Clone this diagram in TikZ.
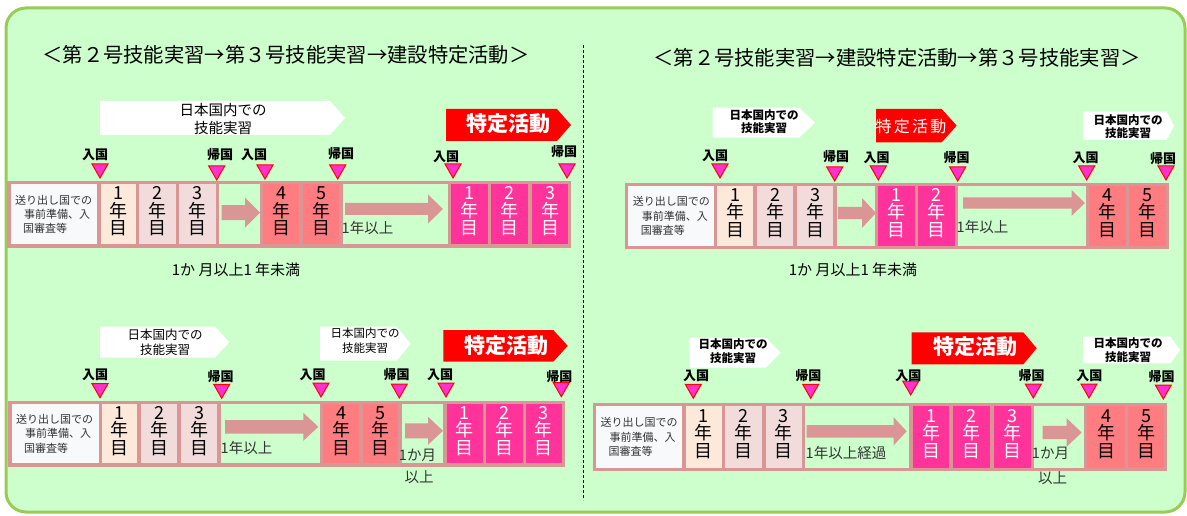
\documentclass[tikz,border=0pt]{standalone}
\usepackage{fontspec}
\setmainfont{Noto Sans CJK JP}
\definecolor{bgG}{HTML}{CCFFCC}
\definecolor{bdG}{HTML}{99CC55}
\definecolor{barC}{HTML}{D99694}
\definecolor{cZero}{HTML}{F7F9FB}
\definecolor{cPeach}{HTML}{FDE9D9}
\definecolor{cLt}{HTML}{F2DCDB}
\definecolor{cSal}{HTML}{FF7C80}
\definecolor{cMag}{HTML}{FF3399}
\definecolor{triF}{HTML}{FF33CC}
\definecolor{txG}{HTML}{333333}
\newcommand\fz[2]{\fontsize{#1}{#2}\selectfont}
\tikzset{
  boxcell/.style={anchor=north west, inner sep=0pt, outer sep=0pt, draw=none},
  yrtxt/.style={align=center, inner sep=0pt, font=\fz{18}{17.5}},
  zerotxt/.style={anchor=west, align=left, inner sep=0pt, text=txG, font=\fz{11}{14.3}},
  trimark/.style={fill=triF, draw=red, line width=1pt, line join=miter},
  mklab/.style={inner sep=0pt, text=black, font=\fz{13}{13}\bfseries},
  botlab/.style={inner sep=0pt, text=black, font=\fz{15}{15}},
  notelab/.style={inner sep=0pt, text=txG, font=\fz{14.5}{14.5}},
  bantxt/.style={align=center, inner sep=0pt, text=black},
  redtxt/.style={inner sep=0pt, text=white, font=\fz{21}{21}\bfseries},
  titletxt/.style={inner sep=0pt, text=black, font=\fz{20.3}{20.3}},
}
\newcommand\Cell[6]{\node[boxcell, fill=#6, minimum width={(#3-#2)*1pt}, minimum height={(#5-#4)*1pt}] (#1) at (#2,#4) {};}
\newcommand\Yr[3]{\node[yrtxt, text=#2] (#1t) at ([yshift=3pt]#1.center) {#3\\年\\目};}
\newcommand\Zero[1]{\node[zerotxt] (#1t) at ([xshift=4.3pt]#1.west) {送り出し国での\\\hspace*{9pt}事前準備、入\\\hspace*{8pt}国審査等};}
\newcommand\Mark[6]{\draw[trimark] (#2-8,#3-14) -- (#2+8,#3-14) -- (#2,#3) -- cycle;
  \node[mklab] (#1) at (#5,#6) {#4};}
\newcommand\Banner[6]{\fill[#6] (#1,#4) -- (#2,#4) -- (#3,{(#4+#5)/2}) -- (#2,#5) -- (#1,#5) -- cycle;}
\newcommand\Barrow[6]{\fill[barC] (#1,#3-#4) -- (#2-#6,#3-#4) -- (#2-#6,#3-#5) -- (#2,#3) -- (#2-#6,#3+#5) -- (#2-#6,#3+#4) -- (#1,#3+#4) -- cycle;}
\begin{document}
\begin{tikzpicture}[x=1pt,y=-1pt]
\useasboundingbox (0,0) rectangle (1187,516);
\fill[white] (0,0) rectangle (1187,516);
\draw[bdG, line width=3pt, fill=bgG, rounded corners=20pt] (6,8) rectangle (1185,512);
\draw[black, line width=0.8pt, dash pattern=on 3pt off 2pt] (583,45) -- (583,500);

% titles
\node[titletxt] (T1) at (286,55) {＜第２号技能実習→第３号技能実習→建設特定活動＞};
\node[titletxt] (T2) at (897,58) {＜第２号技能実習→建設特定活動→第３号技能実習＞};

% ---------------- Row A ----------------
\fill[barC] (7,181) rectangle (571,248);
\Cell{A0}{10.7}{97.3}{184.3}{244.3}{cZero}
\Cell{A1}{100.7}{136}{184.3}{244.3}{cPeach}
\Cell{A2}{139.3}{176}{184.3}{244.3}{cLt}
\Cell{A3}{179.3}{216}{184.3}{244.3}{cLt}
\Cell{Ag1}{219.3}{260}{184.3}{244.3}{bgG}
\Cell{A4}{263.3}{299.3}{184.3}{244.3}{cSal}
\Cell{A5}{302.7}{339.3}{184.3}{244.3}{cSal}
\Cell{Ag2}{342.7}{447.7}{184.3}{244.3}{bgG}
\Cell{A6}{451}{487.7}{184.3}{244.3}{cMag}
\Cell{A7}{491.3}{528.3}{184.3}{244.3}{cMag}
\Cell{A8}{532.3}{568.3}{184.3}{244.3}{cMag}
\Zero{A0}
\Yr{A1}{black}{1}\Yr{A2}{black}{2}\Yr{A3}{black}{3}
\Yr{A4}{black}{4}\Yr{A5}{black}{5}
\Yr{A6}{white}{1}\Yr{A7}{white}{2}\Yr{A8}{white}{3}
\Barrow{221.7}{260}{212.7}{7.5}{15}{15}
\Barrow{345}{443}{209}{6}{14.5}{15}
\node[notelab] (An1) at (367.5,228) {1年以上};
\Banner{100}{330}{345}{101}{135}{white}
\node[bantxt, font=\fz{14.5}{18}] (Aw1) at (223,119) {日本国内での\\技能実習};
\Banner{446}{557}{571}{109}{141}{red}
\node[redtxt] (Ar1) at (508,124) {特定活動};
\Mark{Am1}{100}{178}{入国}{95}{155}
\Mark{Am2}{216.7}{180}{帰国}{220}{155}
\Mark{Am3}{265}{179}{入国}{254}{155}
\Mark{Am4}{337.7}{179}{帰国}{341}{153.5}
\Mark{Am5}{453}{178}{入国}{446}{157}
\Mark{Am6}{567}{178}{帰国}{564}{152}
\node[botlab] (Ab) at (236,270) {1か 月以上1 年未満};

% ---------------- Row B ----------------
\fill[barC] (625,183) rectangle (1169,249);
\Cell{B0}{628.3}{714}{186}{246}{cZero}
\Cell{B1}{717.3}{753.3}{186}{246}{cPeach}
\Cell{B2}{756.7}{793.3}{186}{246}{cLt}
\Cell{B3}{797.3}{833.3}{186}{246}{cLt}
\Cell{Bg1}{836.7}{875}{186}{246}{bgG}
\Cell{B4}{878.3}{915}{186}{246}{cMag}
\Cell{B5}{918.3}{955}{186}{246}{cMag}
\Cell{Bg2}{958}{1086.3}{186}{246}{bgG}
\Cell{B6}{1089.3}{1126}{186}{246}{cSal}
\Cell{B7}{1129.3}{1166}{186}{246}{cSal}
\Zero{B0}
\Yr{B1}{black}{1}\Yr{B2}{black}{2}\Yr{B3}{black}{3}
\Yr{B4}{white}{1}\Yr{B5}{white}{2}
\Yr{B6}{black}{4}\Yr{B7}{black}{5}
\Barrow{838}{876}{213}{6.2}{15}{14}
\Barrow{963}{1085}{203}{5.7}{13}{13.5}
\node[notelab] (Bn1) at (982.5,226.7) {1年以上};
\Banner{712.7}{799}{815}{107.7}{137.7}{white}
\node[bantxt, font=\fz{11.5}{13.3}\bfseries] (Bw1) at (764,121.7) {日本国内での\\技能実習};
\Banner{876}{941.7}{956.7}{109}{142.3}{red}
\node[inner sep=0pt, text=white, font=\fz{16}{16}] (Br1) at (911,126) {特\hspace{2.3pt}定\hspace{2.3pt}活\hspace{2.3pt}動};
\Banner{1083}{1166.7}{1174}{111.7}{140}{white}
\node[bantxt, font=\fz{11.5}{13.3}\bfseries] (Bw2) at (1128,126.7) {日本国内での\\技能実習};
\Mark{Bm1}{720}{178}{入国}{715}{156}
\Mark{Bm2}{834.7}{181}{帰国}{836}{156.7}
\Mark{Bm3}{878.3}{180}{入国}{876.7}{158}
\Mark{Bm4}{957.7}{181}{帰国}{956.7}{158}
\Mark{Bm5}{1086.7}{180}{入国}{1085.7}{157.7}
\Mark{Bm6}{1166}{180}{帰国}{1163}{159}
\node[botlab] (Bb) at (853,270) {1か 月以上1 年未満};

% ---------------- Row C ----------------
\fill[barC] (8,401) rectangle (564.7,466.5);
\Cell{C0}{11.7}{99}{404.3}{463.3}{cZero}
\Cell{C1}{102.3}{137.3}{404.3}{463.3}{cPeach}
\Cell{C2}{140.7}{177.3}{404.3}{463.3}{cLt}
\Cell{C3}{181}{217.3}{404.3}{463.3}{cLt}
\Cell{Cg1}{220.7}{320}{404.3}{463.3}{bgG}
\Cell{C4}{323.3}{359.3}{404.3}{463.3}{cSal}
\Cell{C5}{362.7}{398.3}{404.3}{463.3}{cSal}
\Cell{Cg2}{401.7}{443.3}{404.3}{463.3}{bgG}
\Cell{C6}{446.7}{482.7}{404.3}{463.3}{cMag}
\Cell{C7}{486}{522.7}{404.3}{463.3}{cMag}
\Cell{C8}{526}{561.7}{404.3}{463.3}{cMag}
\Zero{C0}
\Yr{C1}{black}{1}\Yr{C2}{black}{2}\Yr{C3}{black}{3}
\Yr{C4}{black}{4}\Yr{C5}{black}{5}
\Yr{C6}{white}{1}\Yr{C7}{white}{2}\Yr{C8}{white}{3}
\Barrow{225}{318.3}{426.8}{6.7}{14}{15}
\Barrow{405}{443}{430.8}{7.5}{14}{15}
\node[notelab] (Cn1) at (246.5,448.3) {1年以上};
\node[notelab] (Cn2) at (417.5,455) {1か月};
\node[notelab] (Cn3) at (419,476.7) {以上};
\Banner{100}{215}{229.3}{326.7}{357.7}{white}
\node[bantxt, font=\fz{12.5}{15}] (Cw1) at (165,342.5) {日本国内での\\技能実習};
\Banner{320}{396.7}{410.7}{326.7}{360.7}{white}
\node[bantxt, font=\fz{11.5}{15}] (Cw2) at (365,340.8) {日本国内での\\技能実習};
\Banner{443.3}{553.3}{567.7}{330}{361.7}{red}
\node[redtxt] (Cr1) at (506.5,346) {特定活動};
\Mark{Cm1}{100}{397.7}{入国}{95}{375}
\Mark{Cm2}{221.7}{398.3}{帰国}{220.7}{376.7}
\Mark{Cm3}{321}{397}{入国}{312.7}{375}
\Mark{Cm4}{399.3}{398}{帰国}{396.7}{375}
\Mark{Cm5}{446}{397}{入国}{440}{374.3}
\Mark{Cm6}{561.3}{396.7}{帰国}{559.3}{376.7}

% ---------------- Row D ----------------
\fill[barC] (593,403) rectangle (1167,471);
\Cell{D0}{596}{682.3}{406}{467.7}{cZero}
\Cell{D1}{686}{721.7}{406}{467.7}{cPeach}
\Cell{D2}{725}{761.7}{406}{467.7}{cLt}
\Cell{D3}{765.7}{801.7}{406}{467.7}{cLt}
\Cell{Dg1}{805}{909.3}{406}{467.7}{bgG}
\Cell{D4}{912.7}{949.3}{406}{467.7}{cMag}
\Cell{D5}{953.3}{990}{406}{467.7}{cMag}
\Cell{D6}{994.3}{1031}{406}{467.7}{cMag}
\Cell{Dg2}{1034.3}{1083.7}{406}{467.7}{bgG}
\Cell{D7}{1087.3}{1124.7}{406}{467.7}{cSal}
\Cell{D8}{1128}{1164.3}{406}{467.7}{cSal}
\Zero{D0}
\Yr{D1}{black}{1}\Yr{D2}{black}{2}\Yr{D3}{black}{3}
\Yr{D4}{white}{1}\Yr{D5}{white}{2}\Yr{D6}{white}{3}
\Yr{D7}{black}{4}\Yr{D8}{black}{5}
\Barrow{806.7}{906.7}{431.3}{6.3}{14}{13}
\Barrow{1042.7}{1081.7}{432.5}{6.7}{14.2}{15}
\node[notelab] (Dn1) at (846,453.3) {1年以上経過};
\node[notelab] (Dn2) at (1050.5,453.3) {1か月};
\node[notelab] (Dn3) at (1052.5,478.3) {以上};
\Banner{689.3}{766}{780.7}{337.7}{367.7}{white}
\node[bantxt, font=\fz{11.5}{14}\bfseries] (Dw1) at (733,351.3) {日本国内での\\技能実習};
\Banner{911.7}{1023.3}{1036.7}{332.3}{364.3}{red}
\node[redtxt] (Dr1) at (975,347) {特定活動};
\Banner{1083}{1170.7}{1180}{336.7}{363.3}{white}
\node[bantxt, font=\fz{11.5}{14}\bfseries] (Dw2) at (1128,350.3) {日本国内での\\技能実習};
\Mark{Dm1}{693.3}{398.3}{入国}{696}{376}
\Mark{Dm2}{810.7}{398.3}{帰国}{808.3}{376}
\Mark{Dm3}{910.7}{395}{入国}{908.3}{376}
\Mark{Dm4}{1033.3}{398}{帰国}{1031.7}{376}
\Mark{Dm5}{1089}{398}{入国}{1089.3}{376}
\Mark{Dm6}{1163.3}{399}{帰国}{1161.7}{376.7}
\end{tikzpicture}
\end{document}
